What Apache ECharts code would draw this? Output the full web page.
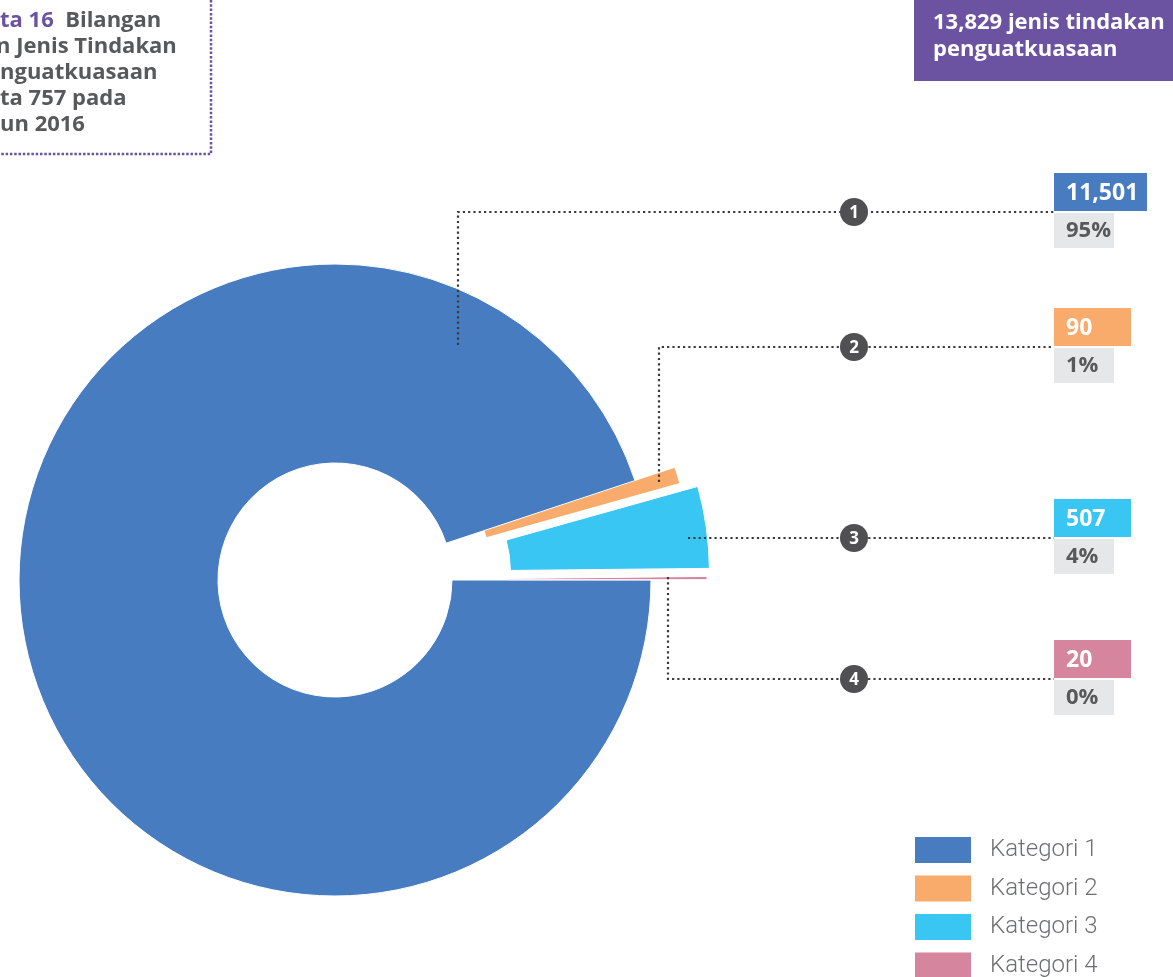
<!DOCTYPE html>
<html>
<head>
<meta charset="utf-8">
<script src="https://cdn.jsdelivr.net/npm/echarts@6/dist/echarts.min.js"></script>
<style>
html,body{margin:0;padding:0;background:#fff;}
#chart{width:1173px;height:977px;}
</style>
</head>
<body>
<div id="chart"></div>
<script>
// ---- data ----
const categories = ['Kategori 1', 'Kategori 2', 'Kategori 3', 'Kategori 4'];
const values = [11501, 90, 507, 20];
const valueLabels = ['11,501', '90', '507', '20'];
const pctLabels = ['95%', '1%', '4%', '0%'];
const calloutNumbers = ['1', '2', '3', '4'];
const totalLines = ['13,829 jenis tindakan', 'penguatkuasaan'];
const titleLines = [
  [{t: 'ta 16', c: 'accent'}, {t: '  Bilangan', c: 'main'}],
  [{t: 'n Jenis Tindakan', c: 'main'}],
  [{t: 'nguatkuasaan', c: 'main'}],
  [{t: 'ta 757 pada', c: 'main'}],
  [{t: 'un 2016', c: 'main'}]
];

// ---- styles / layout ----
const colors = ['#477dc0', '#f9ab6b', '#3ac6f3', '#d5869e'];
const explode = [0, 41, 59, 56];
const sliceBorder = [
  {borderColor: '#fff', borderWidth: 1},
  {borderColor: '#f9ab6b', borderWidth: 1.2},
  {borderColor: '#fff', borderWidth: 1},
  {borderColor: '#fff', borderWidth: 1}
];
const PURPLE = '#6c53a2';
const GRAY = '#58595b';
const CENTER = [335, 580];
const RADIUS = [117, 316];
const FONT_B = '"Open Sans", "Noto Sans", sans-serif';

const leaderPaths = [
  [[458, 345], [458, 212], [1054, 212]],
  [[659, 482], [659, 347], [1054, 347]],
  [[688, 538], [1054, 538]],
  [[668, 577], [668, 679], [1054, 679]]
];
const circleX = 854;
const boxX = 1054;
const valueBoxW = [93, 77, 77, 77];
const pctBoxW = 60;

const chart = echarts.init(document.getElementById('chart'), null, {renderer: 'canvas'});

const series = categories.map((name, k) => ({
  type: 'pie',
  center: CENTER,
  radius: RADIUS,
  startAngle: 0,
  clockwise: true,
  silent: true,
  selectedMode: 'multiple',
  selectedOffset: explode[k],
  animation: false,
  label: {show: false},
  labelLine: {show: false},
  emphasis: {disabled: true},
  select: {itemStyle: sliceBorder[k]},
  z: 2 + k,
  data: categories.map((n, i) => ({
    name: n,
    value: values[i],
    selected: i === k && explode[k] > 0,
    itemStyle: i === k
      ? Object.assign({color: colors[i]}, sliceBorder[i])
      : {color: 'rgba(0,0,0,0)', borderWidth: 0}
  }))
}));

const graphics = [];

// title block (clipped at left edge)
const titleY = [21, 47, 73, 99, 125];
titleLines.forEach((parts, li) => {
  graphics.push({
    type: 'text',
    x: li === 1 ? -4 : 0,
    y: titleY[li],
    style: {
      text: parts.map(p => '{' + p.c + '|' + p.t + '}').join(''),
      verticalAlign: 'middle',
      rich: {
        accent: {fill: PURPLE, font: '700 22px ' + FONT_B},
        main: {fill: GRAY, font: '700 22px ' + FONT_B}
      }
    }
  });
});
graphics.push({
  type: 'polyline',
  shape: {points: [[211, 0], [211, 154], [0, 154]]},
  style: {stroke: PURPLE, lineWidth: 2.5, lineDash: [2.5, 1.8], fill: null}
});

// total box top-right
graphics.push({type: 'rect', shape: {x: 914, y: 0, width: 259, height: 81}, style: {fill: PURPLE}});
totalLines.forEach((t, i) => {
  graphics.push({
    type: 'text', x: 933, y: 23 + i * 27,
    style: {text: t, fill: '#fff', font: '700 22px ' + FONT_B, verticalAlign: 'middle'}
  });
});

// callouts
leaderPaths.forEach((pts, i) => {
  const lineY = pts[pts.length - 1][1];
  graphics.push({
    type: 'polyline', z: 10,
    shape: {points: pts},
    style: {stroke: '#3a3a3c', lineWidth: 2.2, lineDash: [2.2, 3.1], fill: null}
  });
  graphics.push({
    type: 'circle', z: 11,
    shape: {cx: circleX, cy: lineY, r: 14},
    style: {fill: '#505052'}
  });
  graphics.push({
    type: 'text', z: 12, x: circleX, y: lineY + 1,
    style: {text: calloutNumbers[i], fill: '#fff', font: '700 17px ' + FONT_B, align: 'center', verticalAlign: 'middle'}
  });
  graphics.push({
    type: 'rect', z: 11,
    shape: {x: boxX, y: lineY - 39, width: valueBoxW[i], height: 38},
    style: {fill: colors[i]}
  });
  graphics.push({
    type: 'text', z: 12, x: boxX + 12, y: lineY - 19,
    style: {text: valueLabels[i], fill: '#fff', font: '700 23px ' + FONT_B, verticalAlign: 'middle'}
  });
  graphics.push({
    type: 'rect', z: 11,
    shape: {x: boxX, y: lineY + 1, width: pctBoxW, height: 35},
    style: {fill: '#e6e7e8'}
  });
  graphics.push({
    type: 'text', z: 12, x: boxX + 12, y: lineY + 19,
    style: {text: pctLabels[i], fill: GRAY, font: '700 22px ' + FONT_B, verticalAlign: 'middle'}
  });
});

chart.setOption({
  animation: false,
  legend: {
    orient: 'vertical',
    left: 915,
    top: 837,
    height: 300,
    padding: 0,
    icon: 'rect',
    itemWidth: 56,
    itemHeight: 26,
    itemGap: 12.5,
    selectedMode: false,
    data: categories.map((n, i) => ({name: n, itemStyle: {color: colors[i], borderWidth: 0}})),
    textStyle: {
      fontFamily: 'Roboto, "Open Sans", sans-serif',
      fontWeight: 300,
      fontSize: 24,
      lineHeight: 20,
      color: '#6d6e71',
      padding: [6, 0, 0, 14]
    }
  },
  series: series,
  graphic: graphics
});
</script>
</body>
</html>
